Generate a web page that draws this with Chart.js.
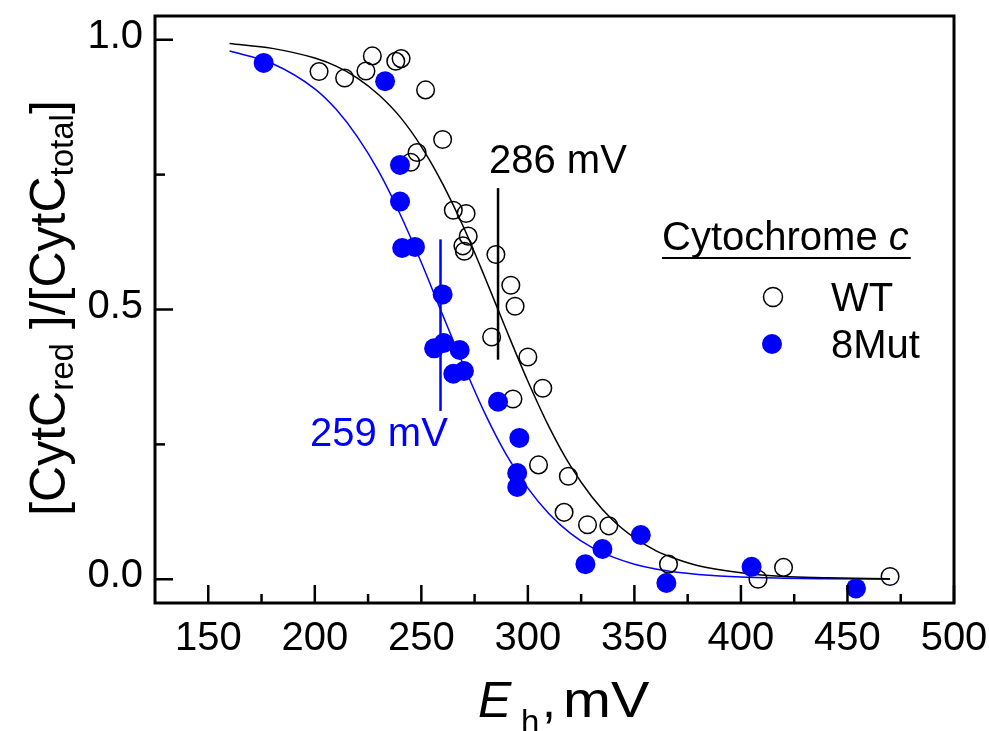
<!DOCTYPE html>
<html>
<head>
<meta charset="utf-8">
<title>Cytochrome c redox titration</title>
<script src="https://cdn.jsdelivr.net/npm/chart.js@4.4.1/dist/chart.umd.min.js"></script>
<style>
  html, body { margin: 0; padding: 0; background: #fff; }
  #wrap { width: 989px; height: 731px; }
</style>
</head>
<body>
<div id="wrap"><canvas id="redox" width="989" height="731"></canvas></div>
<script>
const FONT = '"Liberation Sans", Arial, Helvetica, sans-serif';
const BLUE = "#0000ff";

// WT (open circles)
const wtPotential = [202, 214, 224, 227, 238, 240.5, 245, 248, 252, 260, 265, 271, 272, 269.5, 270.2,
  285, 292, 294, 283, 300, 307, 293, 305, 319, 317, 328, 338, 366, 408, 420, 470];
const wtReduced = [0.941, 0.929, 0.942, 0.970, 0.960, 0.965, 0.773, 0.791, 0.907, 0.815, 0.684, 0.678, 0.636, 0.618, 0.608,
  0.602, 0.545, 0.506, 0.449, 0.412, 0.354, 0.334, 0.212, 0.191, 0.124, 0.101, 0.099, 0.028, 0.000, 0.022, 0.005];

// 8Mut (filled blue)
const mutPotential = [176, 233, 240, 240, 241, 247, 260, 256, 260.5, 268, 265, 270, 286, 296, 295, 295,
  327, 335, 353, 365, 405, 454];
const mutReduced = [0.957, 0.923, 0.768, 0.700, 0.614, 0.616, 0.528, 0.428, 0.438, 0.425, 0.381, 0.386, 0.329, 0.262, 0.197, 0.171,
  0.028, 0.056, 0.082, -0.007, 0.023, -0.017];

// fitted curves
const fitPotential = [160, 180, 200, 210, 220, 230, 240, 250, 260, 270, 280, 290, 300, 310, 320, 330, 340, 350, 360, 370, 380, 400, 420, 440, 470];
const wtFit = [0.993, 0.984, 0.966, 0.951, 0.929, 0.898, 0.857, 0.802, 0.733, 0.651, 0.558, 0.461, 0.367, 0.282, 0.210, 0.153,
  0.109, 0.077, 0.053, 0.037, 0.025, 0.012, 0.005, 0.003, 0.001];
const mutFit = [0.979, 0.956, 0.909, 0.871, 0.820, 0.756, 0.677, 0.587, 0.490, 0.395, 0.306, 0.230, 0.169, 0.121, 0.085, 0.059,
  0.041, 0.028, 0.019, 0.013, 0.009, 0.004, 0.002, 0.001, 0.000];

// midpoint markers
const wtMidPotential = [286, 286];
const wtMidLevel = [0.407, 0.725];
const mutMidPotential = [259, 259];
const mutMidLevel = [0.312, 0.630];

const xTickValues = [150, 200, 250, 300, 350, 400, 450, 500];
const xMinorValues = [175, 225, 275, 325, 375, 425, 475];
const yTickValues = [0, 0.5, 1];
const yMinorValues = [0.25, 0.75];

const toPoints = (xs, ys) => xs.map((x, i) => ({ x, y: ys[i] }));

// draws a run of text pieces (sizes, italics, sub offsets, stretch) starting at x
function drawParts(ctx, parts, x, baseline) {
  parts.forEach((p) => {
    const sx = p.sx || 1;
    ctx.font = `${p.italic ? "italic " : ""}${p.size}px ${FONT}`;
    ctx.save();
    ctx.translate(x, baseline + (p.dy || 0));
    ctx.scale(sx, 1);
    ctx.fillText(p.text, 0, 0);
    ctx.restore();
    x += ctx.measureText(p.text).width * sx;
  });
  return x;
}

function partsWidth(ctx, parts) {
  return parts.reduce((w, p) => {
    ctx.font = `${p.italic ? "italic " : ""}${p.size}px ${FONT}`;
    return w + ctx.measureText(p.text).width * (p.sx || 1);
  }, 0);
}

// inward ticks and the closed frame
const frameAndTicks = {
  id: "frameAndTicks",
  afterDatasetsDraw(chart) {
    const { ctx, chartArea: a, scales: { x, y } } = chart;
    const line = (x0, y0, x1, y1) => {
      ctx.beginPath();
      ctx.moveTo(x0, y0);
      ctx.lineTo(x1, y1);
      ctx.stroke();
    };
    ctx.save();
    ctx.strokeStyle = "#000";
    ctx.lineWidth = 2.5;
    xTickValues.forEach((v) => { const px = x.getPixelForValue(v); line(px, a.bottom, px, a.bottom - 18); });
    xMinorValues.forEach((v) => { const px = x.getPixelForValue(v); line(px, a.bottom, px, a.bottom - 9); });
    yTickValues.forEach((v) => { const py = y.getPixelForValue(v); line(a.left, py, a.left + 18, py); });
    yMinorValues.forEach((v) => { const py = y.getPixelForValue(v); line(a.left, py, a.left + 10, py); });
    ctx.lineWidth = 3;
    ctx.strokeRect(a.left, a.top, a.right - a.left, a.bottom - a.top);
    ctx.restore();
  },
};

// titles, midpoint labels and the legend block
const textLayer = {
  id: "textLayer",
  afterDraw(chart) {
    const ctx = chart.ctx;
    ctx.save();
    ctx.textAlign = "left";
    ctx.textBaseline = "alphabetic";

    // midpoint labels
    ctx.fillStyle = "#000";
    drawParts(ctx, [{ text: "286 mV", size: 40 }], 489, 173);
    ctx.fillStyle = BLUE;
    drawParts(ctx, [{ text: "259 mV", size: 40 }], 310, 446);

    // legend
    ctx.fillStyle = "#000";
    const endX = drawParts(ctx, [{ text: "Cytochrome ", size: 40 }, { text: "c", size: 40, italic: true }], 662, 250);
    ctx.fillRect(662, 257, endX - 660, 2);
    ctx.beginPath();
    ctx.arc(773, 297, 9.5, 0, Math.PI * 2);
    ctx.lineWidth = 1.5;
    ctx.strokeStyle = "#000";
    ctx.stroke();
    drawParts(ctx, [{ text: "WT", size: 40 }], 831, 311);
    ctx.beginPath();
    ctx.arc(772, 344, 10, 0, Math.PI * 2);
    ctx.fillStyle = BLUE;
    ctx.fill();
    ctx.fillStyle = "#000";
    drawParts(ctx, [{ text: "8Mut", size: 40 }], 831, 358);

    // x axis title
    drawParts(ctx, [{ text: "E", size: 50, italic: true }], 478, 717);
    drawParts(ctx, [{ text: "h", size: 33 }], 521, 733);
    drawParts(ctx, [{ text: ",", size: 50 }], 542, 717);
    drawParts(ctx, [{ text: "mV", size: 50, sx: 1.15 }], 563, 717);

    // y axis title, rotated
    const yTitle = [
      { text: "[CytC", size: 50 },
      { text: "red", size: 33, dy: 8 },
      { text: " ]/[CytC", size: 50 },
      { text: "total", size: 33, dy: 8 },
      { text: "]", size: 50 },
    ];
    ctx.translate(65, 308);
    ctx.rotate(-Math.PI / 2);
    drawParts(ctx, yTitle, -partsWidth(ctx, yTitle) / 2, 0);
    ctx.restore();
  },
};

new Chart(document.getElementById("redox"), {
  type: "scatter",
  data: {
    datasets: [
      {
        label: "8Mut",
        data: toPoints(mutPotential, mutReduced),
        pointRadius: 10,
        pointBackgroundColor: BLUE,
        pointBorderWidth: 0,
        order: 0,
      },
      {
        label: "WT",
        data: toPoints(wtPotential, wtReduced),
        pointRadius: 8.8,
        pointBackgroundColor: "rgba(0,0,0,0)",
        pointBorderColor: "#000",
        pointBorderWidth: 1.5,
        order: 1,
      },
      {
        label: "WT fit",
        data: toPoints(fitPotential, wtFit),
        showLine: true,
        pointRadius: 0,
        borderColor: "#000",
        borderWidth: 1.5,
        cubicInterpolationMode: "monotone",
        order: 2,
      },
      {
        label: "8Mut fit",
        data: toPoints(fitPotential, mutFit),
        showLine: true,
        pointRadius: 0,
        borderColor: BLUE,
        borderWidth: 1.5,
        cubicInterpolationMode: "monotone",
        order: 3,
      },
      {
        label: "WT Em",
        data: toPoints(wtMidPotential, wtMidLevel),
        showLine: true,
        pointRadius: 0,
        borderColor: "#000",
        borderWidth: 2.5,
        order: 4,
      },
      {
        label: "8Mut Em",
        data: toPoints(mutMidPotential, mutMidLevel),
        showLine: true,
        pointRadius: 0,
        borderColor: BLUE,
        borderWidth: 2.5,
        order: 5,
      },
    ],
  },
  options: {
    responsive: false,
    animation: false,
    devicePixelRatio: 1,
    layout: { padding: { left: 0, top: 16, right: 35, bottom: 0 } },
    plugins: {
      legend: { display: false },
      tooltip: { enabled: false },
    },
    scales: {
      x: {
        type: "linear",
        min: 125,
        max: 500,
        grid: { display: false, drawTicks: false },
        border: { display: false },
        ticks: {
          color: "#000",
          font: { family: FONT, size: 40 },
          padding: 12,
          maxRotation: 0,
        },
        afterBuildTicks: (scale) => {
          scale.ticks = xTickValues.map((value) => ({ value }));
        },
        afterFit: (scale) => {
          scale.height = 128;
          scale.paddingLeft = 0;
          scale.paddingRight = 0;
        },
      },
      y: {
        type: "linear",
        min: -0.044,
        max: 1.044,
        grid: { display: false, drawTicks: false },
        border: { display: false },
        ticks: {
          color: "#000",
          font: { family: FONT, size: 40 },
          padding: 12,
          labelOffset: -3,
          callback: (v) => v.toFixed(1),
        },
        afterBuildTicks: (scale) => {
          scale.ticks = yTickValues.map((value) => ({ value }));
        },
        afterFit: (scale) => {
          scale.width = 155;
          scale.paddingTop = 0;
          scale.paddingBottom = 0;
        },
      },
    },
  },
  plugins: [frameAndTicks, textLayer],
});
</script>
</body>
</html>
